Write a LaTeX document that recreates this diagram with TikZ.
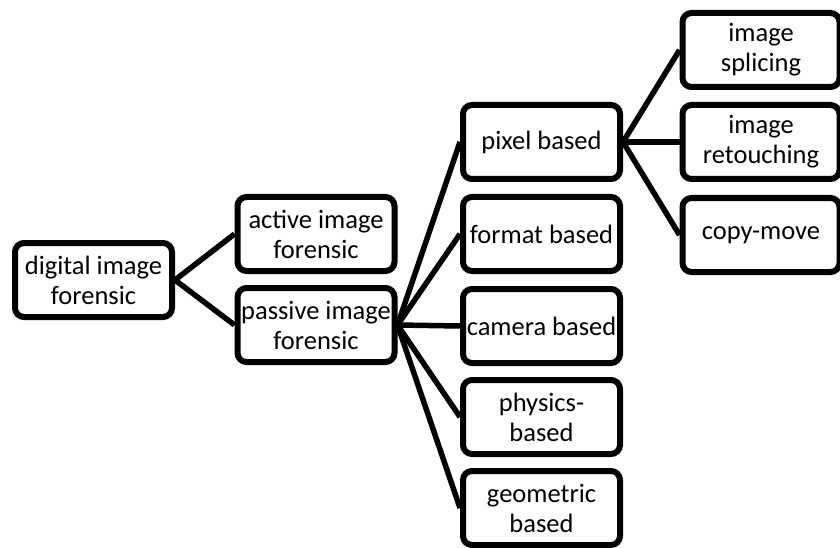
\documentclass[tikz,border=0pt]{standalone}
\usepackage{fontspec}
\setmainfont{Carlito}

\begin{document}
\begin{tikzpicture}[x=1pt, y=-1pt,
  box/.style={draw=black, line width=6pt, rounded corners=9pt, fill=white,
    minimum width=157pt, minimum height=74pt, align=center,
    font=\fontsize{26.5}{30}\selectfont, inner sep=0pt},
  link/.style={black, line width=5.5pt}]

% page frame
\clip (0,0) rectangle (840,548);
\fill[white] (0,0) rectangle (840,548);

% COLUMN 1
\node[box] (dif) at (93.5,280) {digital image\\forensic};

% COLUMN 2
\node[box] (act) at (316,234) {active image\\forensic};
\node[box] (pas) at (316,325) {passive image\\forensic};

% COLUMN 3
\node[box] (pix) at (541.5,142) {pixel based};
\node[box] (fmt) at (541.5,234) {format based};
\node[box] (cam) at (541.5,326) {camera based};
\node[box] (phy) at (541.5,417) {physics-\\based};
\node[box] (geo) at (541.5,508) {geometric\\based};

% COLUMN 4
\node[box] (spl) at (761,50) {image\\splicing};
\node[box] (ret) at (761,142) {image\\retouching};
\node[box] (cpm) at (761,235) {copy-move};

% links level 1
\draw[link] (dif.east) -- (act.west);
\draw[link] (dif.east) -- (pas.west);

% links level 2
\foreach \n in {pix,fmt,cam,phy,geo}
  \draw[link] (pas.east) -- (\n.west);

% links level 3
\foreach \n in {spl,ret,cpm}
  \draw[link] (pix.east) -- (\n.west);

\end{tikzpicture}
\end{document}
